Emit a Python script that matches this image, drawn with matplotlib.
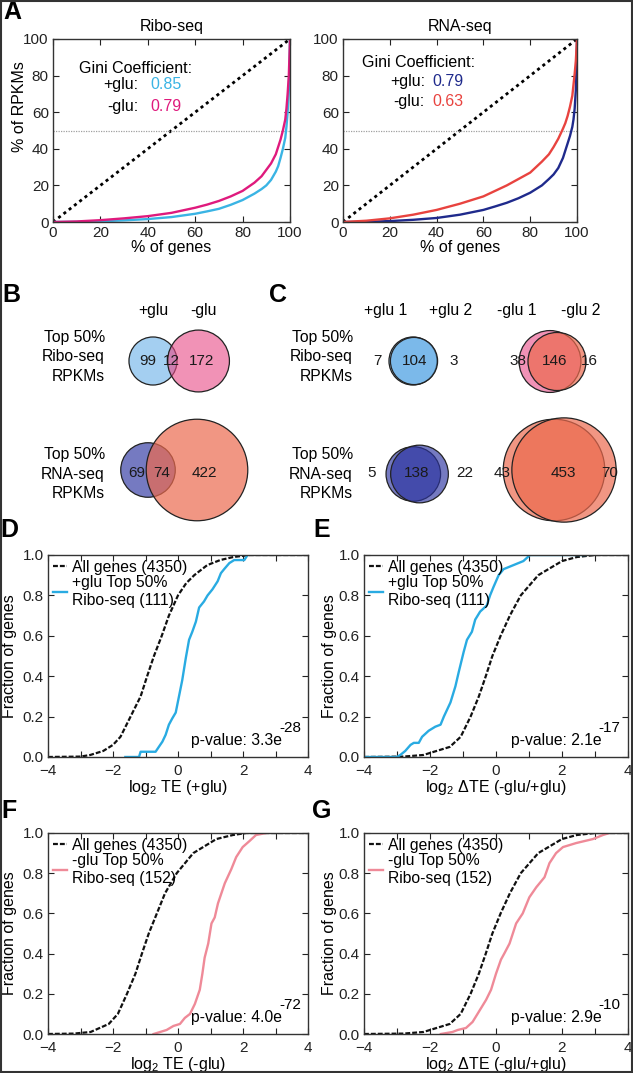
import numpy as np
import matplotlib
matplotlib.use('Agg')
import matplotlib.pyplot as plt
from matplotlib.patches import Circle, Rectangle
from matplotlib.colors import to_rgba

plt.rcParams['font.family'] = ['Liberation Sans', 'DejaVu Sans']
plt.rcParams['mathtext.fontset'] = 'custom'
plt.rcParams['mathtext.rm'] = 'Liberation Sans'
plt.rcParams['mathtext.it'] = 'Liberation Sans:italic'
plt.rcParams['mathtext.bf'] = 'Liberation Sans:bold'
plt.rcParams['font.size'] = 11

# ---- A: cumulative % of RPKMs vs % of genes (Lorenz curves)
lorenz_x = [0, 10, 20, 30, 40, 50, 60, 65, 70, 75, 80, 85, 88, 90, 92, 94, 95, 96, 97, 98,
            98.5, 99, 99.5, 100]
ribo_plus_y = [0, 0.1, 0.4, 0.9, 1.6, 2.7, 4.5, 5.8, 7.2, 9.4, 12, 15.5, 18, 20, 23, 27.5,
               30.5, 35, 40, 46, 52, 60, 72, 100]
ribo_minus_y = [0, 0.3, 1.0, 2.0, 3.2, 5.0, 7.8, 9.5, 11.5, 14, 17, 21.5, 25, 28.5, 32, 37,
                41, 45, 50, 56, 62, 70, 80, 100]
rna_plus_y = [0, 0.1, 0.5, 1.2, 2.2, 4, 6.6, 8.5, 10.5, 13, 16, 20, 23.5, 26, 29.5, 35,
              39, 43, 47, 52, 56, 62, 72, 100]
rna_minus_y = [0, 0.7, 2, 4, 6.6, 10, 14, 17, 20, 23.5, 27, 33, 37, 41, 45.5, 51,
               54, 58, 63, 69, 75, 81, 88, 100]
gini_ribo = ['0.85', '0.79']
gini_rna = ['0.79', '0.63']

# ---- B / C: Venn counts (only first, shared, only second)
venn_b_ribo = [99, 12, 172]
venn_b_rna = [69, 74, 422]
venn_c_ribo_plus = [7, 104, 3]
venn_c_ribo_minus = [38, 146, 16]
venn_c_rna_plus = [5, 138, 22]
venn_c_rna_minus = [43, 453, 70]

# ---- D-G: cumulative fraction of genes
all_te_plus_x = [-4, -3.0, -2.7, -2.3, -2.0, -1.77, -1.46, -1.15, -0.95, -0.74, -0.5, -0.28, 0.0,
                 0.25, 0.5, 0.9, 1.3, 1.7, 2.2, 4]
all_te_plus_y = [0, 0.002, 0.01, 0.03, 0.06, 0.1, 0.2, 0.3, 0.4, 0.5, 0.6, 0.7, 0.8,
                 0.86, 0.9, 0.95, 0.975, 0.99, 1.0, 1.0]
top_te_plus_x = [-1.62, -1.2, -1.15, -0.69, -0.59, -0.48, -0.38, -0.28, -0.18, -0.07, 0.03, 0.13,
                 0.24, 0.34, 0.44, 0.55, 0.65, 0.8, 0.91, 1.06, 1.22, 1.32, 1.42, 1.58, 1.73,
                 2.04, 2.14]
top_te_plus_y = [0, 0, 0.026, 0.026, 0.05, 0.076, 0.11, 0.16, 0.19, 0.22, 0.3, 0.38,
                 0.49, 0.58, 0.62, 0.67, 0.74, 0.77, 0.80, 0.83, 0.87, 0.91, 0.93, 0.96, 0.975,
                 0.975, 1.0]
all_dte_x = [-4, -2.8, -2.2, -1.4, -1.07, -0.77, -0.52, -0.31, -0.11, 0.14, 0.42, 0.75, 1.28,
             2.0, 2.45, 3.0, 4]
all_dte_y = [0, 0.002, 0.01, 0.05, 0.1, 0.2, 0.3, 0.4, 0.5, 0.6, 0.7, 0.8, 0.9,
             0.97, 0.99, 1.0, 1.0]
top_dte_plus_x = [-4, -3.0, -2.9, -2.75, -2.59, -2.49, -2.34, -2.24, -2.04, -1.84, -1.68, -1.58,
                  -1.38, -1.23, -1.13, -0.98, -0.88, -0.73, -0.63, -0.48, -0.28, -0.18, -0.08,
                  0.08, 0.23, 0.53, 0.83, 1.03, 2.7]
top_dte_plus_y = [0, 0, 0.01, 0.03, 0.06, 0.07, 0.07, 0.1, 0.13, 0.15, 0.16, 0.2,
                  0.27, 0.35, 0.42, 0.52, 0.58, 0.62, 0.68, 0.72, 0.75, 0.8, 0.84,
                  0.9, 0.93, 0.95, 0.97, 1.0, 1.0]
all_te_minus_x = [-4, -3.2, -2.69, -2.13, -1.85, -1.57, -1.31, -1.11, -0.9, -0.65, -0.40, -0.04,
                  0.47, 1.18, 1.69, 2.1, 4]
all_te_minus_y = [0, 0.002, 0.01, 0.05, 0.1, 0.2, 0.3, 0.4, 0.5, 0.6, 0.7, 0.8,
                  0.9, 0.97, 0.99, 1.0, 1.0]
top_te_minus_x = [-0.75, -0.35, -0.14, 0.06, 0.21, 0.37, 0.52, 0.67, 0.75, 0.82, 0.93, 1.03,
                  1.13, 1.23, 1.44, 1.64, 1.79, 1.99, 2.2, 2.4, 2.71]
top_te_minus_y = [0, 0.02, 0.04, 0.05, 0.08, 0.1, 0.15, 0.22, 0.3, 0.38, 0.45, 0.55,
                  0.58, 0.65, 0.75, 0.82, 0.88, 0.93, 0.96, 0.99, 1.0]
top_dte_minus_x = [-1.67, -1.32, -1.16, -0.91, -0.71, -0.56, -0.30, -0.15, 0, 0.15, 0.25, 0.41,
                   0.61, 0.81, 1.01, 1.22, 1.47, 1.62, 1.82, 2.03, 2.43, 2.94, 3.24, 3.44]
top_dte_minus_y = [0, 0.01, 0.02, 0.03, 0.06, 0.1, 0.17, 0.22, 0.3, 0.37, 0.4, 0.45,
                   0.55, 0.6, 0.68, 0.73, 0.78, 0.85, 0.9, 0.93, 0.95, 0.97, 0.99, 1.0]
xticks_cdf = list(range(-4, 5))

BLUE = '#3ab4e4'
MAGENTA = '#df1a7d'
NAVY = '#1f2a8c'
RED = '#e8433f'
CDF_BLUE = '#29abe2'
CDF_PINK = '#ef8a98'

W, H = 633, 1073
fig = plt.figure(figsize=(W / 100, H / 100), dpi=100)

ov = fig.add_axes([0, 0, 1, 1])
ov.set_xlim(0, W)
ov.set_ylim(H, 0)
ov.axis('off')


def add_ax(l, t, r, b):
    return fig.add_axes([l / W, 1 - b / H, (r - l) / W, (b - t) / H])


def style(ax):
    for s in ax.spines.values():
        s.set_color('#333333')
        s.set_linewidth(1.0)
    ax.tick_params(direction='in', top=True, right=True, length=4, width=0.8,
                   labelsize=11, colors='#222222', pad=3)


# ---------------- A
a_boxes = [(53, 39, 290, 222), (343, 39, 577, 222)]
a_sets = [
    ('Ribo-seq', ribo_plus_y, ribo_minus_y, BLUE, MAGENTA, gini_ribo,
     (11, 84), (36, 75), (41, 75), (36, 63)),
    ('RNA-seq', rna_plus_y, rna_minus_y, NAVY, RED, gini_rna,
     (8, 87), (35, 77), (38, 77), (35, 66)),
]
for i, (box, st) in enumerate(zip(a_boxes, a_sets)):
    title, py_, my_, cp, cm, gini, gpos, ppos, vpos, mpos = st
    ax = add_ax(*box)
    style(ax)
    ax.plot([0, 100], [0, 100], color='black', lw=2, linestyle=(0, (1.1, 1.3)))
    ax.axhline(50, color='#a0a0a0', lw=0.9, linestyle=(0, (1, 1)))
    ax.plot(lorenz_x, py_, color=cp, lw=1.7)
    ax.plot(lorenz_x, my_, color=cm, lw=1.7)
    ax.set_xlim(0, 100)
    ax.set_ylim(0, 100)
    ax.set_xticks(range(0, 101, 20))
    ax.set_yticks(range(0, 101, 20))
    ax.set_xlabel('% of genes', fontsize=11.5)
    ax.xaxis.set_label_coords(0.5, -0.1)
    if i == 0:
        ax.set_ylabel('% of RPKMs', fontsize=11.5)
        ax.yaxis.set_label_coords(-0.11, 0.63)
    ax.text(0.5, 1.03, title, transform=ax.transAxes, ha='center', va='bottom', fontsize=11.5)
    ax.text(gpos[0], gpos[1], 'Gini Coefficient:', fontsize=11.5, va='center')
    ax.text(ppos[0], ppos[1], '+glu:', fontsize=11.5, va='center', ha='right')
    ax.text(vpos[0], vpos[1], gini[0], fontsize=11.5, va='center', color=cp)
    ax.text(ppos[0], mpos[1], '-glu:', fontsize=11.5, va='center', ha='right')
    ax.text(vpos[0], mpos[1], gini[1], fontsize=11.5, va='center', color=cm)

# ---------------- B / C venn diagrams
K = 2.28  # px per sqrt(gene)
V_BLUE = ('#5aa8e6', 0.55)
V_PINK = ('#e94a86', 0.6)
V_NAVY = ('#2b33a0', 0.65)
V_SALMON = ('#ec6a4e', 0.7)

venns = [
    (venn_b_ribo, (153, 198.5, 361), (148, 171.5, 202), V_BLUE, V_PINK),
    (venn_b_rna, (148, 197, 470), (137, 161.5, 204), V_NAVY, V_SALMON),
    (venn_c_ribo_plus, (413, 414, 361), (377, 415, 454), V_BLUE, V_BLUE),
    (venn_c_ribo_minus, (550, 557, 361.5), (518, 555, 589), V_PINK, V_SALMON),
    (venn_c_rna_plus, (413.3, 419.5, 474), (372, 417, 465), V_NAVY, V_NAVY),
    (venn_c_rna_minus, (554, 564, 470), (502, 563, 610), V_SALMON, V_SALMON),
]
for counts, (c1, c2, cy), lx, col1, col2 in venns:
    r1 = K * np.sqrt(counts[0] + counts[1])
    r2 = K * np.sqrt(counts[1] + counts[2])
    ov.add_patch(Circle((c1, cy), r1, facecolor=to_rgba(col1[0], col1[1]),
                        edgecolor='#222222', lw=0.9))
    ov.add_patch(Circle((c2, cy), r2, facecolor=to_rgba(col2[0], col2[1]),
                        edgecolor='#222222', lw=0.9))
    ty = 361 if cy < 420 else 473
    for x, n in zip(lx, counts):
        ov.text(x, ty, str(n), ha='center', va='center', fontsize=11, color='#1a1a1a')

row_label_kw = dict(ha='right', va='center', multialignment='right', linespacing=1.4, fontsize=11.3)
for x in (105, 353):
    ov.text(x, 357, 'Top 50%\nRibo-seq\nRPKMs', **row_label_kw)
    ov.text(x, 474, 'Top 50%\nRNA-seq\nRPKMs', **row_label_kw)
for x, s in [(153, '+glu'), (203, '-glu'), (386, '+glu 1'), (451, '+glu 2'),
             (517, '-glu 1'), (581, '-glu 2')]:
    ov.text(x, 311, s, ha='center', va='center', fontsize=11.3)

# ---------------- D-G cumulative distributions
cdf_boxes = [(48, 555, 308, 757), (364, 555, 628, 757), (48, 833, 308, 1034), (364, 833, 628, 1034)]
cdf_sets = [
    (all_te_plus_x, all_te_plus_y, top_te_plus_x, top_te_plus_y, CDF_BLUE,
     '+glu Top 50%\nRibo-seq (111)', ('3.3', '-28'), 'log$_2$ TE (+glu)'),
    (all_dte_x, all_dte_y, top_dte_plus_x, top_dte_plus_y, CDF_BLUE,
     '+glu Top 50%\nRibo-seq (111)', ('2.1', '-17'), 'log$_2$ \u0394TE (-glu/+glu)'),
    (all_te_minus_x, all_te_minus_y, top_te_minus_x, top_te_minus_y, CDF_PINK,
     '-glu Top 50%\nRibo-seq (152)', ('4.0', '-72'), 'log$_2$ TE (-glu)'),
    (all_dte_x, all_dte_y, top_dte_minus_x, top_dte_minus_y, CDF_PINK,
     '-glu Top 50%\nRibo-seq (152)', ('2.9', '-10'), 'log$_2$ \u0394TE (-glu/+glu)'),
]
ylab_right = [17, 337, 17, 337]
for box, st, yr in zip(cdf_boxes, cdf_sets, ylab_right):
    ax_x, ax_y, tx, ty, col, lab, (mant, expo), xlab = st
    ax = add_ax(*box)
    style(ax)
    ax.plot(ax_x, ax_y, color='#111111', lw=1.6, linestyle=(0, (2.2, 0.9)),
            label='All genes (4350)')
    ax.plot(tx, ty, color=col, lw=1.7, label=lab)
    ax.set_xlim(-4, 4)
    ax.set_ylim(0, 1)
    ax.set_xticks(xticks_cdf)
    ax.set_xticklabels([('\u2212' + str(-v) if v < 0 else str(v)) if v % 2 == 0 else ''
                        for v in xticks_cdf])
    ax.set_yticks(np.arange(0, 1.01, 0.2))
    ax.set_yticklabels(['%.1f' % v for v in np.arange(0, 1.01, 0.2)])
    ax.tick_params(axis='x', pad=5)
    ax.set_xlabel(xlab, fontsize=11.5)
    hpx = box[3] - box[1]
    wpx = box[2] - box[0]
    ax.xaxis.set_label_coords(0.5, -21 / hpx)
    ax.set_ylabel('Fraction of genes', fontsize=11.5)
    ax.yaxis.set_label_coords((yr - box[0]) / wpx, 0.5)
    ax.legend(loc='upper left', frameon=False, fontsize=11.3, handlelength=0.9,
              handletextpad=0.3, borderaxespad=0.1, labelspacing=0.05, borderpad=0.2)
    base = ax.text(0.9, 0.045, 'p-value: %se' % mant, transform=ax.transAxes,
                   ha='right', va='bottom', fontsize=11.3)
    ax.annotate(expo, xy=(1, 0.85), xycoords=base, xytext=(-2, 0),
                textcoords='offset points', ha='left', va='bottom', fontsize=11)

# ---------------- panel letters
for x, y, s in [(12, 12, 'A'), (11, 295, 'B'), (278, 295, 'C'), (9, 530, 'D'),
                (322, 530, 'E'), (9, 811, 'F'), (322, 811, 'G')]:
    ov.text(x, y, s, ha='center', va='center', fontsize=18, fontweight='bold')

fig.patches.append(Rectangle((0.0015, 0.001), 0.997, 0.998, transform=fig.transFigure,
                             fill=False, edgecolor='#333333', lw=1.5))

fig.savefig('out.png', dpi=100)
